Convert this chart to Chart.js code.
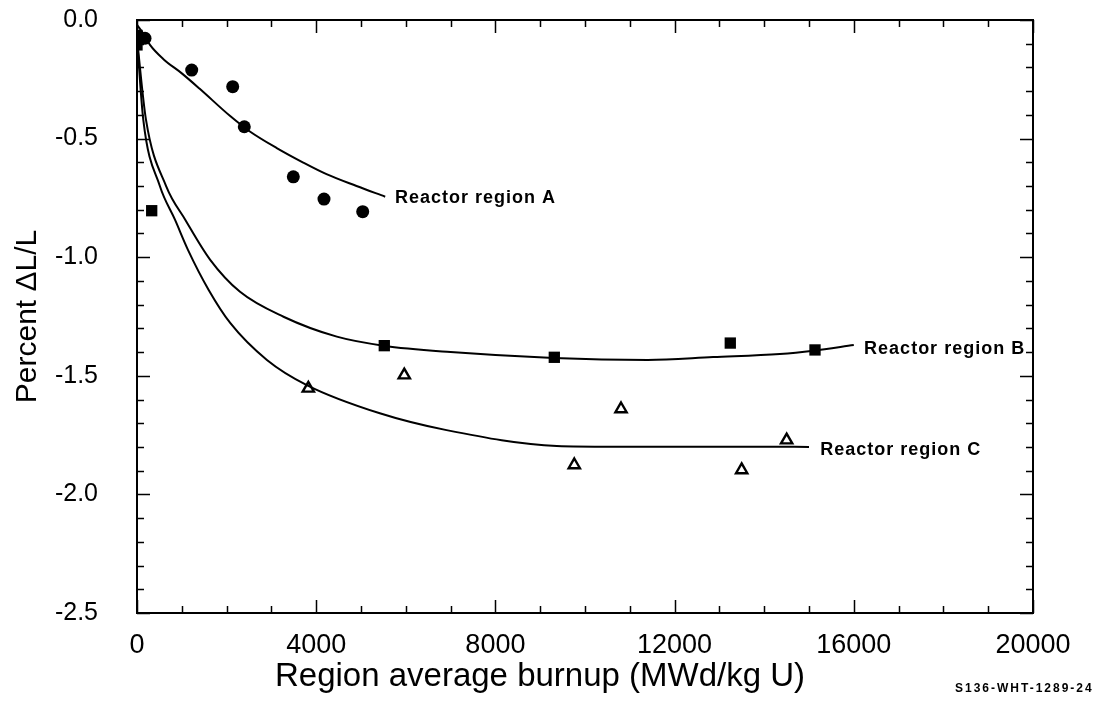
<!DOCTYPE html>
<html>
<head>
<meta charset="utf-8">
<script src="https://cdn.jsdelivr.net/npm/chart.js@4/dist/chart.umd.min.js"></script>
<style>
  html, body { margin: 0; padding: 0; background: #fff; }
  #wrap { width: 1120px; height: 707px; }
</style>
</head>
<body>
<div id="wrap"><canvas id="c" width="1120" height="707"></canvas></div>
<script>
// ---- Data ----
// Measured points
const regionAX = [179, 1221, 2136, 2395, 3489, 4174, 5038];
const regionAY = [-0.077, -0.211, -0.281, -0.450, -0.661, -0.755, -0.808];

const regionBX = [0, 0, 328, 5520, 9315, 13243, 15134];
const regionBY = [-0.065, -0.105, -0.804, -1.373, -1.422, -1.362, -1.391];

const regionCX = [3824, 5966, 9761, 10804, 13497, 14501];
const regionCY = [-1.553, -1.497, -1.876, -1.640, -1.897, -1.771];

// Fitted curves
const curveAX = [0, 150, 290, 590, 1000, 1400, 2080, 2520, 3120, 3700, 4230, 4900, 5540];
const curveAY = [-0.02, -0.06, -0.105, -0.165, -0.225, -0.29, -0.405, -0.47, -0.54, -0.60, -0.65, -0.70, -0.745];

const curveBX = [0, 200, 650, 1080, 1630, 2300, 3270, 4460, 5500, 7000, 9300, 11400, 12860, 14350, 15100, 16000];
const curveBY = [-0.08, -0.42, -0.70, -0.843, -1.01, -1.146, -1.251, -1.335, -1.373, -1.40, -1.425, -1.433, -1.421, -1.408, -1.394, -1.370];

const curveCX = [0, 140, 510, 850, 1140, 1600, 2080, 2900, 3790, 5420, 6910, 9370, 10600, 14050, 15000];
const curveCY = [-0.08, -0.42, -0.70, -0.843, -0.97, -1.138, -1.277, -1.433, -1.539, -1.658, -1.729, -1.796, -1.799, -1.799, -1.80];

const curveNames = ['Reactor region A', 'Reactor region B', 'Reactor region C'];

const xTickLabels = ['0', '4000', '8000', '12000', '16000', '20000'];
const yTickLabels = ['0.0', '-0.5', '-1.0', '-1.5', '-2.0', '-2.5'];

const xTitle = 'Region average burnup (MWd/kg U)';
const yTitle = 'Percent \u0394L/L';
const footnote = 'S136-WHT-1289-24';

// ---- Build datasets ----
const zip = (xs, ys) => xs.map((x, i) => ({ x: x, y: ys[i] }));

const lineStyle = {
  type: 'line', showLine: true, borderColor: '#000', borderWidth: 2,
  pointRadius: 0, pointHoverRadius: 0, fill: false, cubicInterpolationMode: 'monotone'
};

const datasets = [
  Object.assign({ label: 'curve A', data: zip(curveAX, curveAY) }, lineStyle),
  Object.assign({ label: 'curve B', data: zip(curveBX, curveBY) }, lineStyle),
  Object.assign({ label: 'curve C', data: zip(curveCX, curveCY) }, lineStyle),
  { type: 'scatter', label: 'A', data: zip(regionAX, regionAY), pointStyle: 'circle',
    pointRadius: 6.5, backgroundColor: '#000', borderColor: '#000', borderWidth: 0 },
  { type: 'scatter', label: 'B', data: zip(regionBX, regionBY), pointStyle: 'rect',
    pointRadius: 8, backgroundColor: '#000', borderColor: '#000', borderWidth: 0 },
  { type: 'scatter', label: 'C', data: zip(regionCX, regionCY), pointStyle: 'triangle',
    pointRadius: 6.5, backgroundColor: '#fff', borderColor: '#000', borderWidth: 2.4 }
];

// annotation anchors (data units)
const annotationAnchors = [
  { x: 5760, y: -0.750 },
  { x: 16230, y: -1.387 },
  { x: 15250, y: -1.813 }
];

const decorPlugin = {
  id: 'decor',
  afterDatasetsDraw(chart) {
    const { ctx, chartArea: { left, right, top, bottom }, scales: { x, y } } = chart;
    ctx.save();
    ctx.strokeStyle = '#000';
    ctx.lineWidth = 2;
    ctx.strokeRect(left, top, right - left, bottom - top);
    ctx.lineWidth = 1.5;
    ctx.beginPath();
    for (let v = 0; v <= 20000; v += 1000) {
      const px = Math.round(x.getPixelForValue(v)) + 0.5;
      const len = v % 4000 === 0 ? 13 : 7;
      ctx.moveTo(px, bottom); ctx.lineTo(px, bottom - len);
      ctx.moveTo(px, top); ctx.lineTo(px, top + len);
    }
    for (let i = 0; i <= 25; i++) {
      const py = Math.round(y.getPixelForValue(-i / 10)) + 0.5;
      const len = i % 5 === 0 ? 13 : 7;
      ctx.moveTo(left, py); ctx.lineTo(left + len, py);
      ctx.moveTo(right, py); ctx.lineTo(right - len, py);
    }
    ctx.stroke();

    // curve labels
    ctx.fillStyle = '#000';
    ctx.font = 'bold 18px "Liberation Sans", Arial, sans-serif';
    try { ctx.letterSpacing = '1px'; } catch (e) {}
    ctx.textAlign = 'left';
    ctx.textBaseline = 'middle';
    curveNames.forEach((name, i) => {
      const a = annotationAnchors[i];
      ctx.fillText(name, x.getPixelForValue(a.x), y.getPixelForValue(a.y));
    });

    // x axis title
    try { ctx.letterSpacing = '0px'; } catch (e) {}
    ctx.font = '33px "Liberation Sans", Arial, sans-serif';
    ctx.textAlign = 'center';
    ctx.textBaseline = 'middle';
    ctx.fillText(xTitle, 540, 677);

    // footnote
    ctx.font = 'bold 12px "Liberation Sans", Arial, sans-serif';
    try { ctx.letterSpacing = '2px'; } catch (e) {}
    ctx.textAlign = 'left';
    ctx.fillText(footnote, 955, 689);
    ctx.restore();
  }
};

new Chart(document.getElementById('c'), {
  data: { datasets: datasets },
  options: {
    responsive: false,
    animation: false,
    events: [],
    layout: { padding: { top: 20, right: 87, left: 0, bottom: 0 } },
    plugins: { legend: { display: false }, tooltip: { enabled: false } },
    scales: {
      x: {
        type: 'linear', min: 0, max: 20000,
        grid: { display: false, drawTicks: false },
        border: { display: false },
        ticks: {
          stepSize: 1000, autoSkip: false, maxRotation: 0, padding: 16, color: '#000',
          font: { family: '"Liberation Sans Narrow", "Liberation Sans", Arial, sans-serif', size: 27 },
          callback: (v) => (v % 4000 === 0 ? xTickLabels[v / 4000] : '')
        },
        afterFit: (s) => { s.height = 94; s.paddingLeft = 0; s.paddingRight = 0; }
      },
      y: {
        type: 'linear', min: -2.5, max: 0,
        grid: { display: false, drawTicks: false },
        border: { display: false },
        ticks: {
          stepSize: 0.1, autoSkip: false, padding: 39, color: '#000',
          font: { family: '"Liberation Sans", Arial, sans-serif', size: 25 },
          callback: (v) => {
            const k = Math.round(-v * 10);
            return k % 5 === 0 ? yTickLabels[k / 5] : '';
          }
        },
        title: {
          display: true, text: yTitle, color: '#000',
          font: { family: '"Liberation Sans", Arial, sans-serif', size: 30 },
          padding: { top: 10, bottom: 0 }
        },
        afterFit: (s) => { s.width = 137; s.paddingTop = 0; s.paddingBottom = 0; }
      }
    }
  },
  plugins: [decorPlugin]
});
</script>
</body>
</html>
